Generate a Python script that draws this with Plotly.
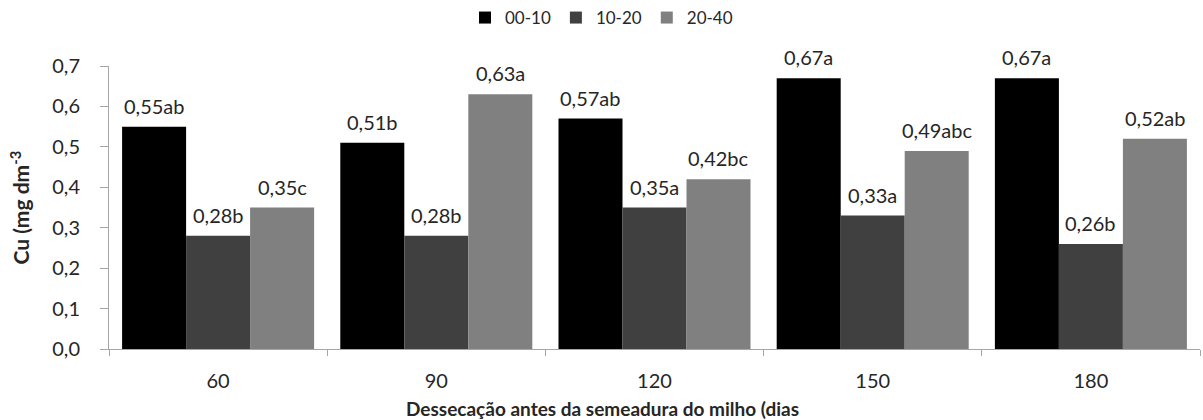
import plotly.graph_objects as go

# Dessecação (dias) e teores de Cu por camada de solo
dias = ["60", "90", "120", "150", "180"]
camadas = ["00-10", "10-20", "20-40"]
cu_00_10 = [0.55, 0.51, 0.57, 0.67, 0.67]
cu_10_20 = [0.28, 0.28, 0.35, 0.33, 0.26]
cu_20_40 = [0.35, 0.63, 0.42, 0.49, 0.52]
letras_00_10 = ["ab", "b", "ab", "a", "a"]
letras_10_20 = ["b", "b", "a", "a", "b"]
letras_20_40 = ["c", "a", "bc", "abc", "ab"]

cores = ["#000000", "#404040", "#808080"]
FONT = "Lato"
TXT = "#262626"

W, H = 1203, 420
ML, MR, MT, MB = 109, 3, 66, 71
BARGAP = 0.12

def rotulo(v, l):
    return f"{v:.2f}".replace(".", ",") + l

fig = go.Figure()
series = list(zip(camadas, [cu_00_10, cu_10_20, cu_20_40],
                  [letras_00_10, letras_10_20, letras_20_40], cores))
for nome, vals, letras, cor in series:
    fig.add_trace(go.Bar(
        x=dias, y=vals, name=nome,
        marker=dict(color=cor, line=dict(width=0)),
    ))

# value labels above each bar, offset to the bar's slot in the group
cat_px = (W - ML - MR) / len(dias)
bar_px = cat_px * (1 - BARGAP) / len(series)
for i, (nome, vals, letras, cor) in enumerate(series):
    dx = (i - (len(series) - 1) / 2) * bar_px
    for k, (v, l) in enumerate(zip(vals, letras)):
        fig.add_annotation(
            x=k, y=v, xref="x", yref="y", text=rotulo(v, l),
            showarrow=False, xshift=dx, yanchor="bottom", yshift=7,
            font=dict(family=FONT, size=20, color=TXT),
        )

plot_h = H - MT - MB
# axis titles
fig.add_annotation(
    x=(602 - ML) / (W - ML - MR), y=-(408 - (H - MB)) / plot_h,
    xref="paper", yref="paper",
    text="<b>Dessecação antes da semeadura do milho (dias</b>",
    showarrow=False, xanchor="center", yanchor="middle",
    font=dict(family=FONT, size=19, color=TXT),
)
fig.add_annotation(
    x=(19 - ML) / (W - ML - MR), y=0.5, xref="paper", yref="paper",
    text="<b>Cu (mg dm<sup>-3</sup></b>", textangle=-90,
    showarrow=False, xanchor="center", yanchor="middle",
    font=dict(family=FONT, size=21, color=TXT),
)

fig.update_layout(
    width=W, height=H,
    margin=dict(l=ML, r=MR, t=MT, b=MB),
    paper_bgcolor="white", plot_bgcolor="white",
    barmode="group", bargap=BARGAP, bargroupgap=0,
    separators=",.",
    font=dict(family=FONT, size=20, color=TXT),
    legend=dict(
        orientation="h", x=0.5, xanchor="center", y=1.0, yanchor="top",
        xref="container", yref="container", font=dict(family=FONT, size=17),
        itemwidth=30, tracegroupgap=0,
    ),
    xaxis=dict(
        type="category", range=[-0.5, len(dias) - 0.5],
        showline=True, linecolor="#a6a6a6", linewidth=1,
        ticks="outside", tickson="boundaries", ticklen=6, tickcolor="#a6a6a6",
        tickfont=dict(family=FONT, size=20),
        ticklabelstandoff=14,
    ),
    yaxis=dict(
        range=[0, 0.7], dtick=0.1, tickformat=".1f",
        showline=True, linecolor="#a6a6a6", linewidth=1,
        ticks="outside", ticklen=8, tickcolor="#a6a6a6",
        showgrid=False, zeroline=False,
        tickfont=dict(family=FONT, size=20),
        ticklabelstandoff=16,
    ),
)

fig.write_html("out.html")
